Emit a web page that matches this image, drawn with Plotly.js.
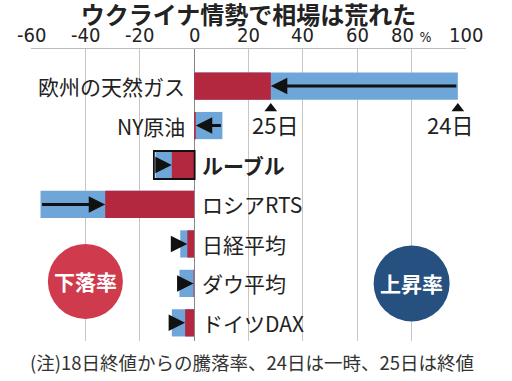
<!DOCTYPE html>
<html><head><meta charset="utf-8">
<script src="https://cdn.plot.ly/plotly-3.0.1.min.js"></script>
<style>html,body{margin:0;padding:0;background:#fff}</style>
</head><body>
<div id="chart" style="width:512px;height:381px"></div>
<script>
const categories = ["欧州の天然ガス","NY原油","ルーブル","ロシアRTS","日経平均","ダウ平均","ドイツDAX"];
const change24 = [97, 10.4, -14.2, -56.5, -5.1, -5.4, -8.2];   // 24日(一時)
const change25 = [28.2, 0.6, -8.2, -32.7, -2.5, -0.2, -3.3];   // 25日(終値)
const tickVals = [-60,-40,-20,0,20,40,60,80,100];
const tickLabels = ["-60","-40","-20","0","20","40","60","80 <span style='font-size:14px'>%</span>","100"];
const dayLabels = ["25日","24日"];
const circleLabels = ["下落率","上昇率"];
const titleText = "ウクライナ情勢で相場は荒れた";
const noteText = "(注)18日終値からの騰落率、24日は一時、25日は終値";
const highlighted = "ルーブル";

const idx = categories.map((_, i) => i);
const JP = "'Noto Sans CJK JP', 'Noto Sans', sans-serif";
const NARROW = "'Liberation Sans Narrow', 'DejaVu Sans Condensed', sans-serif";
const BLUE = "#6fa6d9", RED = "#b3273f";

const traces = [
  {type:"bar", orientation:"h", x:change24, y:idx, width:0.69, marker:{color:BLUE}, hoverinfo:"skip"},
  {type:"bar", orientation:"h", x:change25, y:idx, width:0.69, marker:{color:RED}, hoverinfo:"skip"},
  {type:"scatter", mode:"markers", x:[change25[0], change24[0]], y:[0.57, 0.57],
   marker:{symbol:"triangle-up", size:11, color:"#111"}, hoverinfo:"skip"}
];

const annotations = [];
tickVals.forEach((v, k) => {
  annotations.push({x:v, y:1.047, xref:"x", yref:"paper", showarrow:false, text:tickLabels[k],
    yanchor:"middle", borderpad:0, font:{family:NARROW, size:20, color:"#222"}});
});
categories.forEach((c, i) => {
  annotations.push({x:change25[i], y:i, ax:change24[i], ay:i, xref:"x", yref:"y", axref:"x", ayref:"y",
    text:"", showarrow:true, arrowhead:2, arrowsize:1.1, arrowwidth:3, arrowcolor:"#111", standoff:0, startstandoff:0});
  const pos = change24[i] > 0;
  annotations.push({x:0, y:i, xref:"x", yref:"y", showarrow:false,
    text: c === highlighted ? "<b>"+c+"</b>" : c,
    xanchor: pos ? "right" : "left", xshift: pos ? -7 : 6,
    font:{family:JP, size:21, color:"#222"}});
});
annotations.push({x:change25[0], y:0.97, xref:"x", yref:"y", showarrow:false, text:dayLabels[0], xshift:4,
  font:{family:JP, size:22, color:"#222"}});
annotations.push({x:change24[0], y:0.97, xref:"x", yref:"y", showarrow:false, text:dayLabels[1], xshift:-8,
  font:{family:JP, size:22, color:"#222"}});
annotations.push({x:-40, y:4.95, xref:"x", yref:"y", showarrow:false, text:"<b>"+circleLabels[0]+"</b>",
  font:{family:JP, size:21, color:"#fff"}});
annotations.push({x:80, y:5.0, xref:"x", yref:"y", showarrow:false, text:"<b>"+circleLabels[1]+"</b>",
  font:{family:JP, size:21, color:"#fff"}});
annotations.push({x:0.509, y:-0.072, xref:"paper", yref:"paper", showarrow:false, text:noteText,
  yanchor:"middle", font:{family:JP, size:18.5, color:"#333"}});

const ri = categories.indexOf(highlighted);
const shapes = [
  {type:"circle", xref:"x", yref:"y", xsizemode:"pixel", ysizemode:"pixel", xanchor:-40, yanchor:4.95,
   x0:-37.5, x1:37.5, y0:-37.5, y1:37.5, fillcolor:"#cf3a4c", line:{width:0}},
  {type:"circle", xref:"x", yref:"y", xsizemode:"pixel", ysizemode:"pixel", xanchor:80, yanchor:5.0,
   x0:-38, x1:38, y0:-38, y1:38, fillcolor:"#25507f", line:{width:0}},
  {type:"rect", xref:"x", yref:"y", x0:change24[ri]-0.6, x1:0.2, y0:ri-0.355, y1:ri+0.355,
   line:{color:"#111", width:1.8}, fillcolor:"rgba(0,0,0,0)"}
];

const layout = {
  width:512, height:381,
  margin:{l:31, r:46, t:49, b:40},
  paper_bgcolor:"#fff", plot_bgcolor:"#fff",
  showlegend:false, barmode:"overlay",
  title:{text:titleText, x:0.5, xref:"paper", y:1-16/381, yanchor:"middle",
    font:{family:JP, size:24, color:"#222", weight:600}},
  xaxis:{side:"top", range:[-60,100], tickvals:tickVals, showticklabels:false,
    showgrid:true, gridcolor:"#c6c6c6", gridwidth:1,
    zeroline:true, zerolinecolor:"#888", zerolinewidth:1,
    showline:true, linecolor:"#bbb", linewidth:1, ticks:"", fixedrange:true},
  yaxis:{range:[6.46,-0.94], showticklabels:false, showgrid:false, zeroline:false, showline:false, fixedrange:true},
  annotations, shapes
};
Plotly.newPlot("chart", traces, layout, {displayModeBar:false, staticPlot:true});
</script>
</body></html>
